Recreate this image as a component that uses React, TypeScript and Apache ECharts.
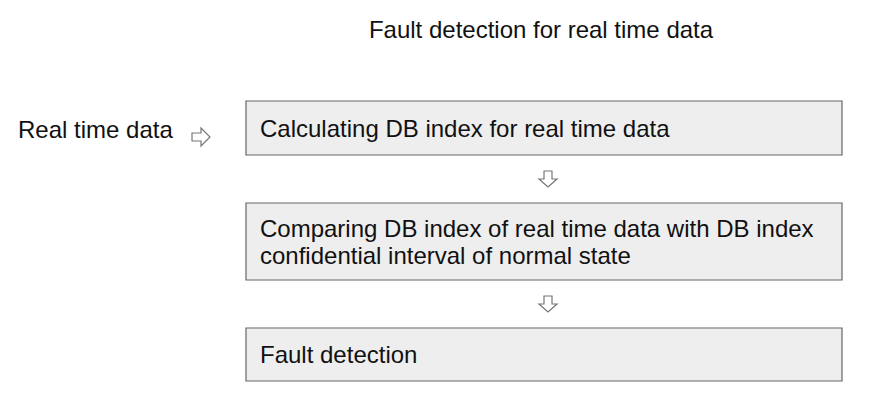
import { useEffect, useRef } from "react";
import * as echarts from "echarts";

const title = "Fault detection for real time data";
const inputLabel = "Real time data";
const steps = [
  "Calculating DB index for real time data",
  "Comparing DB index of real time data with DB index\nconfidential interval of normal state",
  "Fault detection",
];
// box top / bottom edges in pixels
const boxTops = [101, 203, 328];
const boxBottoms = [155, 280, 381];

const FONT = "Liberation Sans, Arial, sans-serif";
const BOX_LEFT = 246;
const BOX_RIGHT = 842;

const downArrow = (cx: number, cy: number) => ({
  type: "polygon",
  shape: {
    points: [
      [cx - 4, cy - 8],
      [cx + 4, cy - 8],
      [cx + 4, cy],
      [cx + 9, cy],
      [cx, cy + 8],
      [cx - 9, cy],
      [cx - 4, cy],
    ],
  },
  style: { fill: "#fff", stroke: "#777", lineWidth: 1.2 },
});

const rightArrow = (cx: number, cy: number) => ({
  type: "polygon",
  shape: {
    points: [
      [cx - 9, cy - 4],
      [cx, cy - 4],
      [cx, cy - 9],
      [cx + 9, cy],
      [cx, cy + 9],
      [cx, cy + 4],
      [cx - 9, cy + 4],
    ],
  },
  style: { fill: "#fff", stroke: "#777", lineWidth: 1.2 },
});

export default function App() {
  const ref = useRef<HTMLDivElement>(null);

  useEffect(() => {
    document.body.style.margin = "0";
    if (!ref.current) return;
    const chart = echarts.init(ref.current, null, { renderer: "svg" });

    const elements: any[] = [
      {
        type: "text",
        x: 541,
        y: 29,
        style: {
          text: title,
          font: `24px ${FONT}`,
          fill: "#111",
          align: "center",
          verticalAlign: "middle",
        },
      },
      {
        type: "text",
        x: 18,
        y: 129,
        style: {
          text: inputLabel,
          font: `24px ${FONT}`,
          fill: "#111",
          align: "left",
          verticalAlign: "middle",
        },
      },
      rightArrow(201, 137),
    ];

    steps.forEach((s, i) => {
      const top = boxTops[i];
      const bottom = boxBottoms[i];
      elements.push({
        type: "rect",
        shape: { x: BOX_LEFT, y: top, width: BOX_RIGHT - BOX_LEFT, height: bottom - top },
        style: { fill: "#eeeeee", stroke: "#666", lineWidth: 1.2 },
      });
      elements.push({
        type: "text",
        x: 260,
        y: (top + bottom) / 2,
        style: {
          text: s,
          font: `24px ${FONT}`,
          lineHeight: 27,
          fill: "#111",
          align: "left",
          verticalAlign: "middle",
        },
      });
      if (i < steps.length - 1) {
        elements.push(downArrow(548, (bottom + boxTops[i + 1]) / 2));
      }
    });

    chart.setOption({
      animation: false,
      backgroundColor: "#fff",
      graphic: { elements },
    });
    return () => chart.dispose();
  }, []);

  return <div ref={ref} style={{ width: 878, height: 406 }} />;
}
